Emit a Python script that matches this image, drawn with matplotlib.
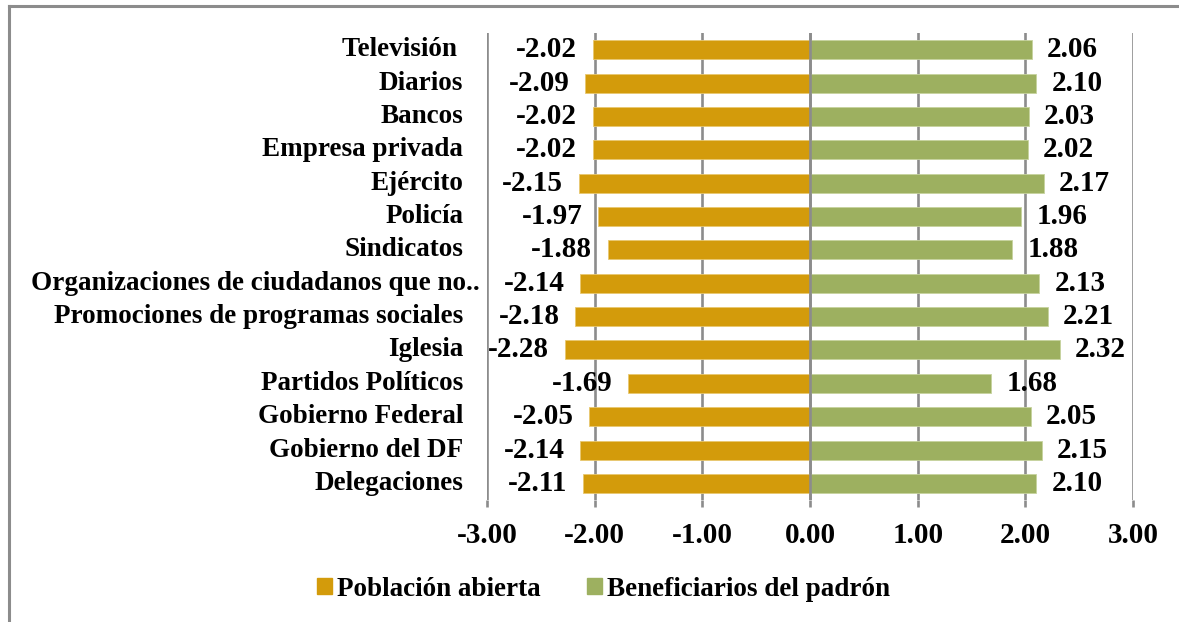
import matplotlib.pyplot as plt
from matplotlib.lines import Line2D
from matplotlib.patches import Patch

plt.rcParams["font.family"] = ["Liberation Serif", "DejaVu Serif"]
plt.rcParams["font.weight"] = "bold"

categories = [
    "Televisión ", "Diarios", "Bancos", "Empresa privada", "Ejército",
    "Policía", "Sindicatos", "Organizaciones de ciudadanos que no..",
    "Promociones de programas sociales", "Iglesia", "Partidos Políticos",
    "Gobierno Federal", "Gobierno del DF", "Delegaciones",
]
poblacion = [-2.02, -2.09, -2.02, -2.02, -2.15, -1.97, -1.88, -2.14,
             -2.18, -2.28, -1.69, -2.05, -2.14, -2.11]
beneficiarios = [2.06, 2.10, 2.03, 2.02, 2.17, 1.96, 1.88, 2.13,
                 2.21, 2.32, 1.68, 2.05, 2.15, 2.10]
xticks = [-3, -2, -1, 0, 1, 2, 3]

ORANGE = "#D39B0B"
GREEN = "#9DB060"
GRID = "#8C8C8C"
FS = 19.5      # category / legend text
FS_NUM = 21    # numbers (reference font has wide digits)

fig = plt.figure(figsize=(11.79, 6.22), dpi=100)
ax = fig.add_axes([0.4131, 0.196, 0.5479, 0.751])

y = list(range(len(categories)))
ax.barh(y, poblacion, height=0.57, color=ORANGE, edgecolor="#E8C870",
        linewidth=0.6, zorder=2)
ax.barh(y, beneficiarios, height=0.57, color=GREEN, edgecolor="#C6D39E",
        linewidth=0.6, zorder=2)
ax.axvline(0, color=GRID, lw=1.9, zorder=3)

for yi, v in zip(y, poblacion):
    ax.annotate(f"{v:.2f}", (v, yi), xytext=(-11, 0), textcoords="offset points",
                ha="right", va="center", fontsize=FS_NUM, fontweight="bold")
for yi, v in zip(y, beneficiarios):
    ax.annotate(f"{v:.2f}", (v, yi), xytext=(11, 0), textcoords="offset points",
                ha="left", va="center", fontsize=FS_NUM, fontweight="bold")

# category labels (Excel truncates the long one and lets it stick out)
for yi, name in zip(y, categories):
    xpos = -0.011 if name.startswith("Organizaciones") else -0.037
    ax.text(xpos, yi, name, transform=ax.get_yaxis_transform(), ha="right",
            va="center", fontsize=FS, fontweight="bold")

ax.set_xlim(-3, 3)
ax.set_ylim(len(categories) - 0.5, -0.5)
ax.set_xticks(xticks)
ax.set_xticklabels([f"{t:.2f}" for t in xticks], fontsize=FS_NUM, fontweight="bold")
ax.set_yticks([])
ax.tick_params(axis="x", length=5, width=1.9, color=GRID, pad=11)
ax.grid(axis="x", color=GRID, lw=1.9, zorder=0)
ax.set_axisbelow(True)
for s in ax.spines.values():
    s.set_visible(False)

handles = [Patch(color=ORANGE, label="Población abierta"),
           Patch(color=GREEN, label="Beneficiarios del padrón")]
fig.legend(handles=handles, loc="center", bbox_to_anchor=(0.512, 0.053), ncol=2,
           frameon=False, fontsize=FS, handlelength=0.55, handleheight=0.55,
           handletextpad=0.2, columnspacing=1.7)

# outer chart frame (only left and top edges show in the crop)
fig.add_artist(Line2D([0.0076, 0.0076], [0.0, 0.991], color=GRID, lw=2.2,
                      transform=fig.transFigure))
fig.add_artist(Line2D([0.0076, 1.0], [0.991, 0.991], color=GRID, lw=2.2,
                      transform=fig.transFigure))

fig.savefig("out.png", dpi=100)
